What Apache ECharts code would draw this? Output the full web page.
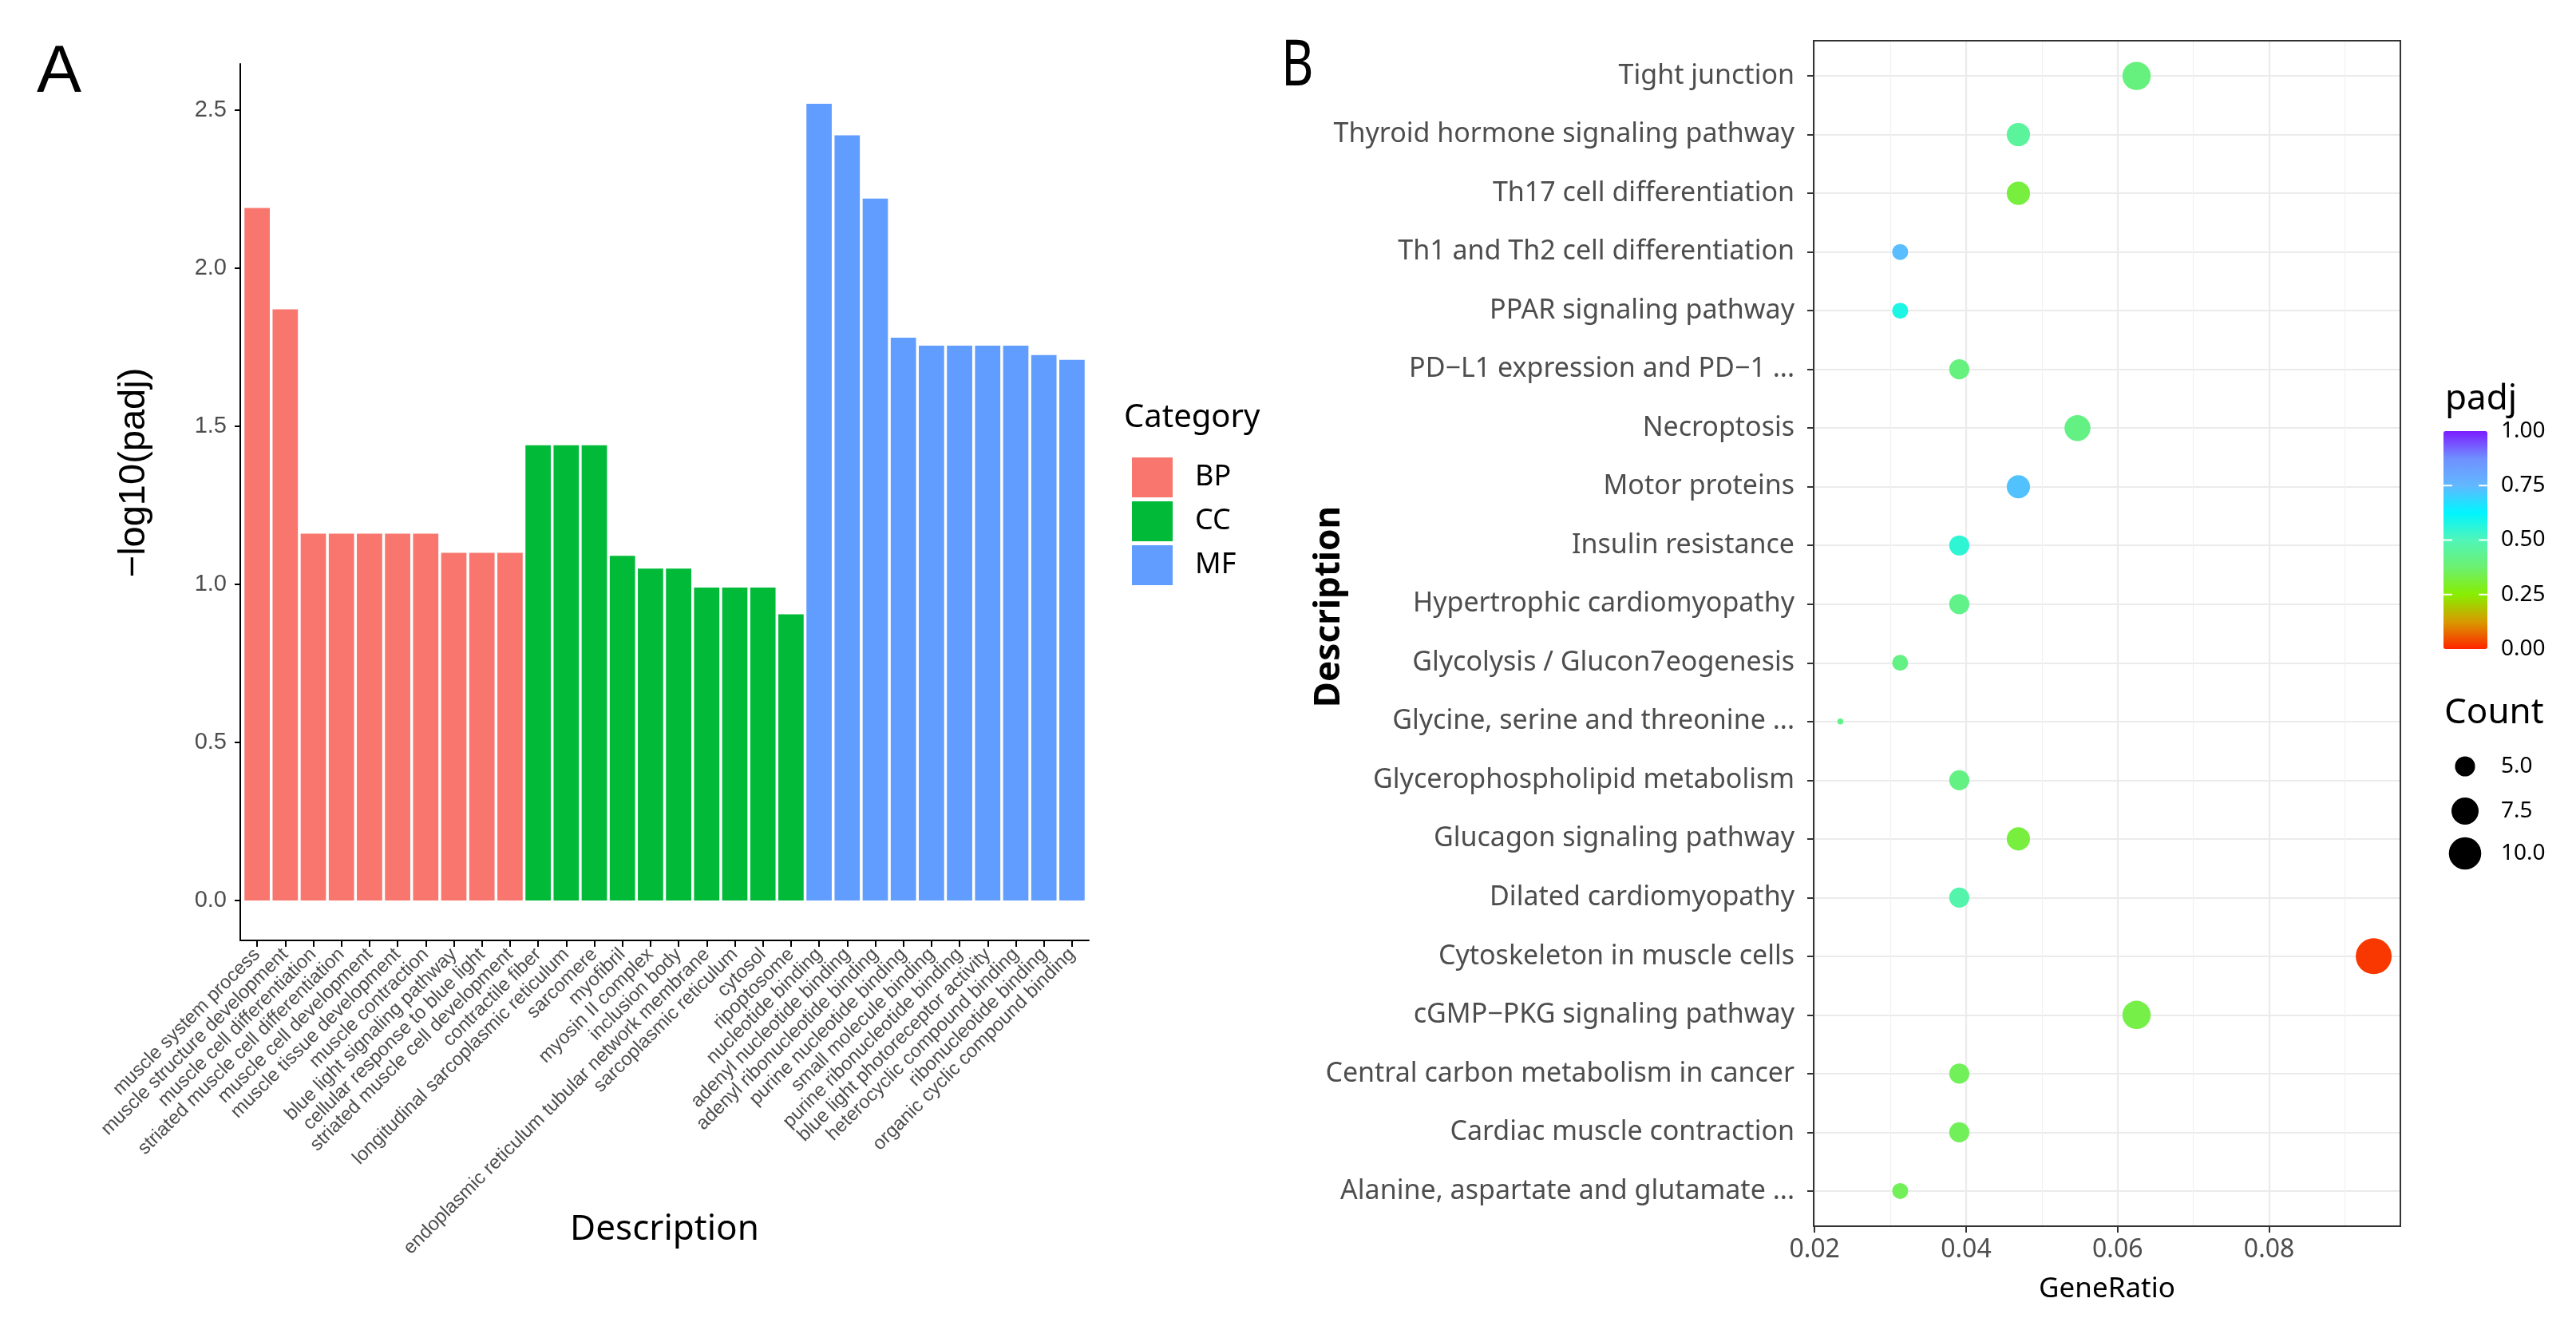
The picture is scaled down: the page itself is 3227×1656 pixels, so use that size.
<!DOCTYPE html>
<html>
<head>
<meta charset="utf-8">
<script src="https://cdn.jsdelivr.net/npm/echarts@6/dist/echarts.min.js"></script>
<style>
html,body{margin:0;padding:0;background:#fff;}
#c{width:3227px;height:1656px;}
</style>
</head>
<body>
<div id="c"></div>
<script>
// ---------- Panel A data ----------
const bpTerms = ["muscle system process","muscle structure development","muscle cell differentiation","striated muscle cell differentiation","muscle cell development","muscle tissue development","muscle contraction","blue light signaling pathway","cellular response to blue light","striated muscle cell development"];
const bpValues = [2.19,1.87,1.16,1.16,1.16,1.16,1.16,1.10,1.10,1.10];
const ccTerms = ["contractile fiber","longitudinal sarcoplasmic reticulum","sarcomere","myofibril","myosin II complex","inclusion body","endoplasmic reticulum tubular network membrane","sarcoplasmic reticulum","cytosol","ripoptosome"];
const ccValues = [1.44,1.44,1.44,1.09,1.05,1.05,0.99,0.99,0.99,0.905];
const mfTerms = ["nucleotide binding","adenyl nucleotide binding","adenyl ribonucleotide binding","purine nucleotide binding","small molecule binding","purine ribonucleotide binding","blue light photoreceptor activity","heterocyclic compound binding","ribonucleotide binding","organic cyclic compound binding"];
const mfValues = [2.52,2.42,2.22,1.78,1.755,1.755,1.755,1.755,1.725,1.71];
const yTicksA = [0,0.5,1.0,1.5,2.0,2.5];

// ---------- Panel B data (top to bottom) ----------
const pathways = ["Tight junction","Thyroid hormone signaling pathway","Th17 cell differentiation","Th1 and Th2 cell differentiation","PPAR signaling pathway","PD\u2212L1 expression and PD\u22121 ...","Necroptosis","Motor proteins","Insulin resistance","Hypertrophic cardiomyopathy","Glycolysis / Glucon7eogenesis","Glycine, serine and threonine ...","Glycerophospholipid metabolism","Glucagon signaling pathway","Dilated cardiomyopathy","Cytoskeleton in muscle cells","cGMP\u2212PKG signaling pathway","Central carbon metabolism in cancer","Cardiac muscle contraction","Alanine, aspartate and glutamate ..."];
const geneRatio = [0.0625,0.0469,0.0469,0.0313,0.0313,0.0391,0.0547,0.0469,0.0391,0.0391,0.0313,0.0234,0.0391,0.0469,0.0391,0.0938,0.0625,0.0391,0.0391,0.0313];
const counts = [8,6,6,4,4,5,7,6,5,5,4,3,5,6,5,12,8,5,5,4];
const padj = [0.40,0.45,0.32,0.74,0.58,0.40,0.41,0.73,0.55,0.42,0.41,0.42,0.41,0.32,0.48,0.02,0.33,0.35,0.35,0.35];
const xTicksB = [0.02,0.04,0.06,0.08];
const xMinorB = [0.03,0.05,0.07,0.09];
const padjTicks = [1.00,0.75,0.50,0.25,0.00];
const countLegend = [5.0,7.5,10.0];

// ---------- derived ----------
const allTerms = bpTerms.concat(ccTerms, mfTerms);
const idxA = allTerms.map((_, i) => i);
const bpData = bpValues.map((v, i) => [i, v]);
const ccData = ccValues.map((v, i) => [bpTerms.length + i, v]);
const mfData = mfValues.map((v, i) => [bpTerms.length + ccTerms.length + i, v]);
const maxA = Math.max(...bpValues, ...ccValues, ...mfValues);
const padA = maxA * 0.05;
const idxB = pathways.map((_, i) => i);
const cMin = Math.min(...counts), cMax = Math.max(...counts);
function dotSize(c) { return 7.5 * (1 + 5 * Math.sqrt(Math.max(0, (c - cMin) / (cMax - cMin)))); }
const ratioMin = Math.min(...geneRatio), ratioMax = Math.max(...geneRatio);
const ratioPad = (ratioMax - ratioMin) * 0.05;
const scatterData = pathways.map((n, i) => [geneRatio[i], i, padj[i], counts[i], n]);

// layout constants
const GA = {left: 301, top: 80, width: 1063, height: 1098};
const GB = {left: 2272, top: 51, width: 735, height: 1485};
const CB = {left: 3061, top: 540, w: 55, h: 273};
const FN = "'Noto Sans', sans-serif";
const FA = "'Liberation Sans', Arial, sans-serif";

const graphics = [];
graphics.push({type: 'text', left: 46, top: 50, style: {text: 'A', font: '84px ' + FA, fill: '#000'}});
graphics.push({type: 'text', x: 1605, y: 84, scaleX: 0.78, style: {text: 'B', font: '80px ' + FN, fill: '#000', verticalAlign: 'middle'}});
graphics.push({type: 'text', x: 168, y: 592, rotation: Math.PI / 2, style: {text: '\u2212log10(padj)', font: '47px ' + FA, fill: '#000', align: 'center', verticalAlign: 'middle'}});
graphics.push({type: 'text', x: 1665, y: 760, rotation: Math.PI / 2, style: {text: 'Description', font: 'bold 44px ' + FN, fill: '#000', align: 'center', verticalAlign: 'middle'}});
graphics.push({type: 'text', x: 1408, y: 524, style: {text: 'Category', font: '40px ' + FN, fill: '#000', verticalAlign: 'middle'}});
graphics.push({type: 'text', x: 3063, y: 500, style: {text: 'padj', font: '44px ' + FN, fill: '#000', verticalAlign: 'middle'}});
graphics.push({type: 'text', x: 3062, y: 893, style: {text: 'Count', font: '44px ' + FN, fill: '#000', verticalAlign: 'middle'}});
padjTicks.forEach(v => {
  const y = CB.top + (1 - v) * CB.h;
  graphics.push({type: 'text', x: 3133, y: y, style: {text: v.toFixed(2), font: '28px ' + FN, fill: '#000', verticalAlign: 'middle'}});
  if (v > 0 && v < 1) {
    graphics.push({type: 'line', z: 100, shape: {x1: CB.left, y1: y, x2: CB.left + 11, y2: y}, style: {stroke: '#fff', lineWidth: 2}});
    graphics.push({type: 'line', z: 100, shape: {x1: CB.left + CB.w - 11, y1: y, x2: CB.left + CB.w, y2: y}, style: {stroke: '#fff', lineWidth: 2}});
  }
});
const countY = [960, 1016, 1069];
countLegend.forEach((c, k) => {
  graphics.push({type: 'circle', shape: {cx: 3088, cy: countY[k], r: dotSize(c) / 2}, style: {fill: '#000'}});
  graphics.push({type: 'text', x: 3133, y: countY[k], style: {text: c.toFixed(1), font: '28px ' + FN, fill: '#000', verticalAlign: 'middle'}});
});
graphics.push({type: 'rect', z: 100, shape: {x: GB.left, y: GB.top, width: GB.width, height: GB.height}, style: {fill: 'none', stroke: '#333', lineWidth: 2}});

const option = {
  backgroundColor: '#fff',
  animation: false,
  textStyle: {fontFamily: FN},
  grid: [
    Object.assign({outerBoundsMode: 'none', containLabel: false}, GA),
    Object.assign({outerBoundsMode: 'none', containLabel: false}, GB)
  ],
  legend: {
    data: ['BP', 'CC', 'MF'], orient: 'vertical', left: 1418, top: 573,
    itemWidth: 51, itemHeight: 50, itemGap: 5, icon: 'rect', selectedMode: false, padding: 0,
    textStyle: {fontSize: 36, color: '#000', fontFamily: FN, padding: [0, 0, 0, 23]}
  },
  xAxis: [
    {
      gridIndex: 0, type: 'value', min: -0.6, max: allTerms.length - 0.4,
      axisLine: {show: true, onZero: false, lineStyle: {color: '#000', width: 2}},
      axisTick: {show: true, customValues: idxA, length: 8, lineStyle: {color: '#000', width: 2}},
      axisLabel: {customValues: idxA, rotate: 45, margin: 14, fontSize: 24, color: '#4d4d4d', fontFamily: FA,
        formatter: v => allTerms[Math.round(v)]},
      splitLine: {show: false},
      name: 'Description', nameLocation: 'middle', nameGap: 340, nameMoveOverlap: false,
      nameTextStyle: {fontSize: 44, color: '#000', fontFamily: FN}
    },
    {
      gridIndex: 1, type: 'value', min: ratioMin - ratioPad, max: ratioMax + ratioPad, position: 'bottom',
      axisLine: {show: false, onZero: false},
      axisTick: {show: true, customValues: xTicksB, length: 8, lineStyle: {color: '#333', width: 2}},
      axisLabel: {customValues: xTicksB, margin: 14, fontSize: 32, color: '#4d4d4d', fontFamily: FN,
        formatter: v => v.toFixed(2)},
      splitLine: {show: true, lineStyle: {color: '#ebebeb', width: 2.2}},
      name: 'GeneRatio', nameLocation: 'middle', nameGap: 62, nameMoveOverlap: false,
      nameTextStyle: {fontSize: 35, color: '#000', fontFamily: FN}
    }
  ],
  yAxis: [
    {
      gridIndex: 0, type: 'value', min: -padA, max: maxA + padA,
      axisLine: {show: true, onZero: false, lineStyle: {color: '#000', width: 2}},
      axisTick: {show: true, customValues: yTicksA, length: 7, lineStyle: {color: '#000', width: 2}},
      axisLabel: {customValues: yTicksA, margin: 17, fontSize: 29, color: '#4d4d4d', fontFamily: FA,
        formatter: v => v.toFixed(1)},
      splitLine: {show: false}
    },
    {
      gridIndex: 1, type: 'value', inverse: true, min: -0.6, max: pathways.length - 0.4,
      axisLine: {show: false, onZero: false},
      axisTick: {show: true, customValues: idxB, length: 8, lineStyle: {color: '#333', width: 2}},
      axisLabel: {customValues: idxB, margin: 24, fontSize: 34, color: '#4d4d4d', fontFamily: FN,
        formatter: v => pathways[Math.round(v)]},
      splitLine: {show: true, lineStyle: {color: '#ebebeb', width: 2.2}}
    }
  ],
  visualMap: {
    type: 'continuous', seriesIndex: 3, dimension: 2, min: 0, max: 1,
    left: CB.left, top: CB.top, itemWidth: CB.w, itemHeight: CB.h, padding: 0,
    calculable: false, realtime: false, hoverLink: false,
    inRange: {color: ['#ff2400', '#d89a00', '#88ee00', '#6cf070', '#50f5b8', '#00f5ff', '#62b8ff', '#7090ff', '#7c1cff']}
  },
  series: [
    {name: 'BP', type: 'bar', xAxisIndex: 0, yAxisIndex: 0, data: bpData, barWidth: 31.7, barGap: '-100%', itemStyle: {color: '#F8766D'}},
    {name: 'CC', type: 'bar', xAxisIndex: 0, yAxisIndex: 0, data: ccData, barWidth: 31.7, barGap: '-100%', itemStyle: {color: '#00BA38'}},
    {name: 'MF', type: 'bar', xAxisIndex: 0, yAxisIndex: 0, data: mfData, barWidth: 31.7, barGap: '-100%', itemStyle: {color: '#619CFF'}},
    {name: 'KEGG', type: 'scatter', xAxisIndex: 1, yAxisIndex: 1, data: scatterData, z: 3,
      symbolSize: d => dotSize(d[3]), itemStyle: {opacity: 1},
      markLine: {
        silent: true, z: 1, symbol: ['none', 'none'], animation: false,
        label: {show: false},
        lineStyle: {type: 'solid', color: '#f1f1f1', width: 1.2},
        emphasis: {disabled: true},
        data: xMinorB.map(v => ({xAxis: v}))
      }
    }
  ],
  graphic: graphics
};
const chart = echarts.init(document.getElementById('c'), null, {renderer: 'canvas'});
chart.setOption(option);
</script>
</body>
</html>
